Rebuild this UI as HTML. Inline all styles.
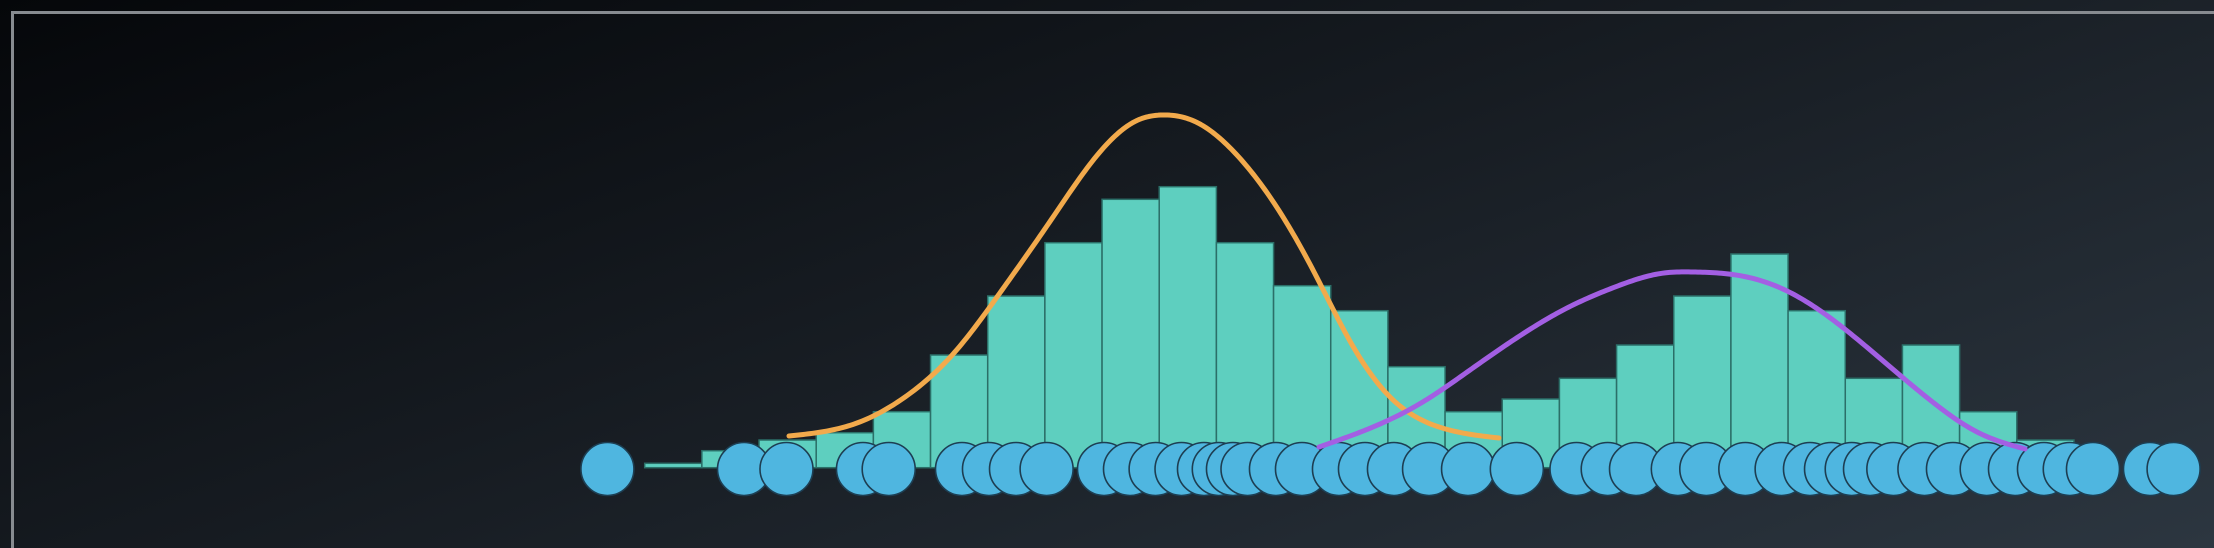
<!DOCTYPE html>
<html><head><meta charset="utf-8"><style>
html,body{margin:0;padding:0;width:2214px;height:548px;overflow:hidden;background:#0a0d10;}
#wrap{position:absolute;left:0;top:0;width:2214px;height:548px;overflow:hidden;background:linear-gradient(160deg,#05070a 0%,#161b21 45%,#2c3640 100%);}
#frame{position:absolute;left:11px;top:11px;width:2230px;height:560px;border:3px solid #878b90;box-sizing:border-box;}
svg{position:absolute;left:0;top:0;}
</style></head><body>
<div id="wrap">
<div id="frame"></div>
<svg id="chart" width="2214" height="548"></svg>
</div>
<script>
// histogram bin counts (bins 0..24, unit width)
const binCounts = [0.044,0.17,0.277,0.35,0.56,1.127,1.717,2.25,2.684,2.81,2.25,1.82,1.57,1.01,0.56,0.687,0.894,1.227,1.717,2.137,1.57,0.894,1.227,0.56,0.277];
// rug points (x in bin units)
const rugPoints = [-0.652,1.737,2.48,3.818,4.268,5.55,6.022,6.495,7.03,8.034,8.489,8.937,9.39,9.783,10.042,10.29,10.544,11.042,11.497,12.144,12.599,13.106,13.72,14.402,15.255,16.299,16.845,17.34,18.071,18.569,19.252,19.887,20.383,20.751,21.113,21.433,21.841,22.385,22.884,23.474,23.969,24.476,24.927,25.333,26.33,26.743];
// fitted curve 1 (orange)
const curve1X = [2.524,3.714,4.554,5.41,6.25,7.107,7.947,8.629,9.049,9.644,10.326,11.008,11.69,12.355,13.037,13.894,14.944];
const curve1Y = [0.317,0.447,0.707,1.147,1.777,2.477,3.147,3.477,3.527,3.457,3.147,2.647,1.977,1.247,0.707,0.407,0.297];
// fitted curve 2 (purple)
const curve2X = [11.795,12.74,13.58,14.437,15.276,16.133,16.973,17.83,18.337,19.089,19.946,20.786,21.643,22.483,23.34,24.145];
const curve2Y = [0.207,0.407,0.647,0.977,1.307,1.597,1.807,1.947,1.957,1.927,1.777,1.477,1.077,0.677,0.347,0.187];

const X0=644.7, BW=57.17, BASE=467.7, YS=100;
const xs = v => X0 + v*BW;
const ys = v => BASE - v*YS;
const NS='http://www.w3.org/2000/svg';
const svg=document.getElementById('chart');
function mk(t,a){const e=document.createElementNS(NS,t);for(const k in a)e.setAttribute(k,a[k]);return e;}

const gBars=mk('g',{});


svg.appendChild(gBars);
binCounts.forEach((c,i)=>{
  const r=mk('rect',{x:xs(i),y:ys(c),width:BW,height:c*YS,fill:'#5ecfbf',stroke:'#2b6f68','stroke-width':1.5});
  
  
  gBars.appendChild(r);
});

const gRug=mk('g',{});


svg.appendChild(gRug);
rugPoints.forEach((p,i)=>{
  const c=mk('circle',{cx:xs(p),cy:469,r:26.5,fill:'#4fb6e0',stroke:'#1d3e52','stroke-width':1.6});
  
  
  gRug.appendChild(c);
});

// natural cubic spline through sampled points
function spline(xa,ya){
  const n=xa.length, h=[], al=[], l=[1], mu=[0], z=[0], c=new Array(n).fill(0), b=[], d=[];
  for(let i=0;i<n-1;i++)h.push(xa[i+1]-xa[i]);
  for(let i=1;i<n-1;i++)al[i]=3/h[i]*(ya[i+1]-ya[i])-3/h[i-1]*(ya[i]-ya[i-1]);
  for(let i=1;i<n-1;i++){l[i]=2*(xa[i+1]-xa[i-1])-h[i-1]*mu[i-1];mu[i]=h[i]/l[i];z[i]=(al[i]-h[i-1]*z[i-1])/l[i];}
  l[n-1]=1;z[n-1]=0;
  for(let j=n-2;j>=0;j--){c[j]=z[j]-mu[j]*c[j+1];b[j]=(ya[j+1]-ya[j])/h[j]-h[j]*(c[j+1]+2*c[j])/3;d[j]=(c[j+1]-c[j])/(3*h[j]);}
  return t=>{let j=0;while(j<n-2&&t>xa[j+1])j++;const dx=t-xa[j];return ya[j]+b[j]*dx+c[j]*dx*dx+d[j]*dx*dx*dx;};
}
function line(xa,ya,col,name){
  const f=spline(xa,ya); const N=300; let d='';
  for(let k=0;k<=N;k++){const t=xa[0]+(xa[xa.length-1]-xa[0])*k/N;d+=(k?' L':'M')+xs(t).toFixed(2)+' '+ys(f(t)).toFixed(2);}
  const p=mk('path',{d:d,fill:'none',stroke:col,'stroke-width':5,'stroke-linecap':'round','stroke-linejoin':'round'});
  
  
  svg.appendChild(p);
}
line(curve1X,curve1Y,'#f2aa4c','orange-fit-curve');
line(curve2X,curve2Y,'#a35fe3','purple-fit-curve');
</script>
</body></html>
